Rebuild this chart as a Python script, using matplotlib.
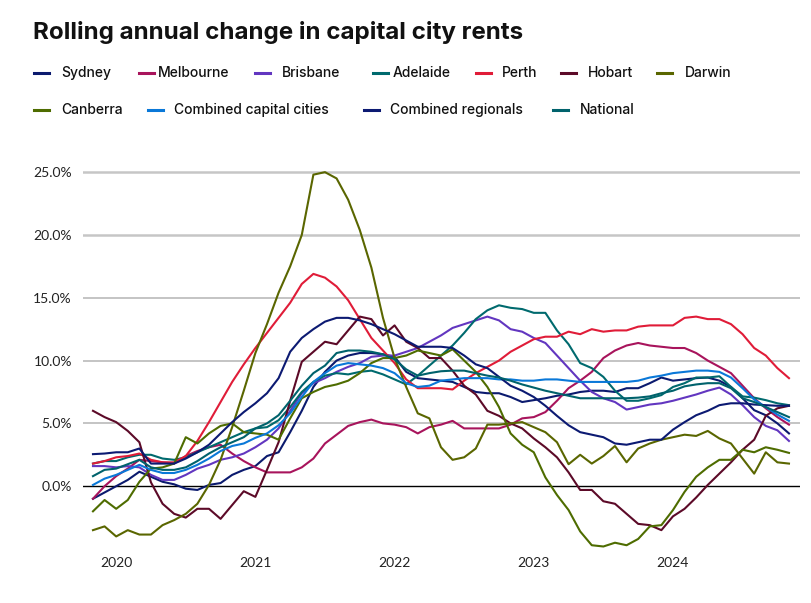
import matplotlib
matplotlib.use("Agg")
import matplotlib.pyplot as plt
from matplotlib.lines import Line2D
import numpy as np

# Monthly points, Nov 2019 .. Nov 2024 (61 points)
months = np.arange(61)
year_ticks = [2, 14, 26, 38, 50]
year_labels = ["2020", "2021", "2022", "2023", "2024"]

sydney = [-1.0, -0.5, 0.0, 0.5, 1.15, 0.75, 0.35, 0.15, -0.2, -0.3, 0.1, 0.25, 0.9, 1.3, 1.6,
          2.4, 2.7, 4.3, 6.0, 7.9, 9.1, 10.0, 10.4, 10.6, 10.6, 10.5, 10.3, 9.1, 8.6, 8.5,
          8.4, 8.3, 7.9, 7.5, 7.4, 7.4, 7.1, 6.7, 6.85, 7.0, 7.2, 7.3, 7.5, 7.6, 7.6,
          7.5, 7.8, 7.8, 8.2, 8.65, 8.4, 8.5, 8.6, 8.65, 8.4, 7.9, 7.0, 6.05, 5.65, 5.0, 4.2]
melbourne = [-1.0, 0.0, 0.8, 1.4, 2.1, 2.0, 1.9, 1.8, 2.4, 2.8, 3.1, 3.3, 2.6, 2.0, 1.5,
             1.1, 1.1, 1.1, 1.5, 2.2, 3.4, 4.1, 4.8, 5.1, 5.3, 5.0, 4.9, 4.7, 4.2, 4.7,
             4.9, 5.2, 4.6, 4.6, 4.6, 4.6, 4.9, 5.4, 5.5, 5.9, 6.8, 7.8, 8.4, 9.1, 10.2,
             10.8, 11.2, 11.4, 11.2, 11.1, 11.0, 11.0, 10.6, 10.0, 9.5, 9.0, 8.0, 7.0, 6.2, 5.5, 4.9]
brisbane = [1.6, 1.6, 1.5, 1.6, 1.5, 0.9, 0.5, 0.5, 0.9, 1.4, 1.7, 2.1, 2.3, 2.6, 3.1,
            3.7, 4.6, 6.0, 7.4, 8.2, 8.6, 9.1, 9.5, 9.8, 10.3, 10.4, 10.4, 10.7, 11.0, 11.5,
            12.0, 12.6, 12.9, 13.2, 13.5, 13.2, 12.5, 12.3, 11.8, 11.4, 10.4, 9.4, 8.4, 7.5, 7.0,
            6.7, 6.1, 6.3, 6.5, 6.6, 6.8, 7.05, 7.3, 7.6, 7.85, 7.3, 6.45, 5.5, 4.8, 4.45, 3.6]
adelaide = [1.8, 2.0, 2.0, 2.3, 2.5, 2.5, 2.2, 2.1, 2.3, 2.7, 3.1, 3.5, 3.9, 4.3, 4.6,
            4.7, 5.25, 6.3, 7.5, 8.3, 8.8, 9.0, 8.9, 9.1, 9.2, 8.9, 8.5, 8.1, 8.8, 9.6,
            10.4, 11.2, 12.2, 13.3, 14.0, 14.4, 14.2, 14.1, 13.8, 13.8, 12.4, 11.3, 9.8, 9.4, 8.7,
            7.6, 6.8, 6.8, 7.0, 7.25, 7.9, 8.2, 8.65, 8.65, 8.75, 7.9, 7.15, 7.05, 6.85, 6.6, 6.45]
perth = [1.8, 2.0, 2.3, 2.4, 2.6, 2.1, 1.9, 1.9, 2.4, 3.6, 5.1, 6.7, 8.3, 9.7, 11.0,
         12.2, 13.4, 14.6, 16.1, 16.9, 16.6, 15.9, 14.8, 13.3, 11.8, 10.8, 9.8, 8.5, 7.8, 7.8,
         7.8, 7.7, 8.4, 9.0, 9.5, 10.0, 10.7, 11.2, 11.7, 11.9, 11.9, 12.3, 12.1, 12.5, 12.3,
         12.4, 12.4, 12.7, 12.8, 12.8, 12.8, 13.4, 13.5, 13.3, 13.3, 12.9, 12.1, 11.0, 10.4, 9.4, 8.6]
hobart = [6.0, 5.5, 5.1, 4.4, 3.5, 0.3, -1.4, -2.2, -2.5, -1.8, -1.8, -2.6, -1.5, -0.4, -0.85,
          1.3, 3.5, 6.8, 9.9, 10.7, 11.5, 11.3, 12.4, 13.5, 13.3, 12.0, 12.8, 11.5, 11.0, 10.2,
          10.2, 9.2, 8.0, 7.3, 6.0, 5.6, 5.0, 4.6, 3.8, 3.1, 2.3, 1.1, -0.3, -0.3, -1.2,
          -1.4, -2.2, -3.0, -3.1, -3.5, -2.4, -1.8, -0.9, 0.1, 1.0, 1.9, 2.9, 3.7, 5.6, 6.2, 6.4]
darwin = [-3.5, -3.2, -4.0, -3.5, -3.85, -3.85, -3.1, -2.7, -2.2, -1.4, 0.1, 2.1, 4.7, 7.6, 10.6,
          12.9, 15.4, 17.5, 20.0, 24.8, 25.0, 24.5, 22.8, 20.4, 17.4, 13.4, 10.2, 7.9, 5.8, 5.4,
          3.1, 2.1, 2.3, 3.0, 4.9, 4.9, 5.0, 5.1, 4.7, 4.3, 3.5, 1.75, 2.5, 1.8, 2.4,
          3.2, 1.9, 3.0, 3.4, 3.7, 3.9, 4.1, 4.0, 4.4, 3.8, 3.4, 2.2, 1.0, 2.7, 1.9, 1.8]
canberra = [-2.0, -1.1, -1.8, -1.1, 0.35, 1.4, 1.5, 1.8, 3.9, 3.4, 4.2, 4.8, 5.0, 4.3, 4.2,
            4.1, 3.7, 5.4, 7.0, 7.5, 7.9, 8.1, 8.4, 9.0, 9.8, 10.2, 10.2, 10.4, 10.8, 10.6,
            10.4, 10.9, 10.0, 9.1, 7.9, 6.3, 4.2, 3.3, 2.7, 0.7, -0.7, -1.9, -3.6, -4.7, -4.8,
            -4.5, -4.7, -4.2, -3.2, -3.1, -1.9, -0.45, 0.75, 1.5, 2.1, 2.1, 2.9, 2.7, 3.1, 2.9, 2.65]
capitals = [0.1, 0.6, 0.9, 1.3, 1.7, 1.3, 1.05, 1.05, 1.3, 1.7, 2.2, 2.8, 3.2, 3.4, 3.85,
            4.2, 4.85, 5.8, 7.1, 8.3, 9.0, 9.6, 9.8, 9.7, 9.6, 9.4, 9.0, 8.2, 7.9, 8.0,
            8.4, 8.5, 8.6, 8.6, 8.6, 8.5, 8.5, 8.4, 8.4, 8.5, 8.5, 8.4, 8.3, 8.3, 8.3,
            8.3, 8.3, 8.4, 8.65, 8.8, 9.0, 9.1, 9.2, 9.2, 9.1, 8.65, 7.8, 6.9, 6.3, 5.7, 5.2]
regionals = [2.55, 2.6, 2.7, 2.7, 3.0, 1.8, 1.8, 1.8, 2.2, 2.7, 3.3, 4.2, 5.1, 5.9, 6.6,
             7.4, 8.6, 10.7, 11.8, 12.5, 13.1, 13.4, 13.4, 13.2, 12.9, 12.5, 12.1, 11.6, 11.1, 11.1,
             11.1, 11.0, 10.4, 9.7, 9.4, 8.7, 8.0, 7.6, 7.1, 6.4, 5.6, 4.85, 4.3, 4.1, 3.9,
             3.4, 3.3, 3.5, 3.7, 3.7, 4.5, 5.1, 5.65, 6.0, 6.45, 6.6, 6.6, 6.5, 6.45, 6.4, 6.4]
national = [0.8, 1.3, 1.4, 1.75, 2.1, 1.5, 1.3, 1.3, 1.5, 2.0, 2.6, 3.1, 3.5, 3.9, 4.6,
            5.0, 5.65, 6.8, 8.0, 9.0, 9.6, 10.6, 10.8, 10.8, 10.7, 10.5, 10.1, 9.3, 8.8, 9.0,
            9.15, 9.2, 9.2, 9.0, 8.8, 8.65, 8.4, 8.1, 7.85, 7.6, 7.4, 7.2, 7.0, 7.0, 7.0,
            7.0, 7.0, 7.05, 7.15, 7.4, 7.6, 7.95, 8.1, 8.2, 8.2, 7.8, 7.0, 6.7, 6.3, 5.9, 5.5]

names = ["Sydney", "Melbourne", "Brisbane", "Adelaide", "Perth", "Hobart", "Darwin",
         "Canberra", "Combined capital cities", "Combined regionals", "National"]
series = [sydney, melbourne, brisbane, adelaide, perth, hobart, darwin,
          canberra, capitals, regionals, national]
colors = ["#0b1a6e", "#a8145c", "#6236c0", "#006a6e", "#e01c38", "#5c0a28", "#5a6600",
          "#4e6c00", "#0a78d8", "#0c1a72", "#00626c"]

yticks = [0, 5, 10, 15, 20, 25]

W, H = 812, 603
fig = plt.figure(figsize=(W / 100, H / 100), dpi=100)
ax = fig.add_axes([83 / W, 1 - 549 / H, (800 - 83) / W, (549 - 168) / H])

for yv in yticks[1:]:
    thick = yv >= 20
    ax.axhline(yv, color="#c6c6c6" if thick else "#b4b4b4", lw=1.8 if thick else 1.1, zorder=1)
ax.axhline(0, color="black", lw=1.0, zorder=1)

for s, c in zip(series, colors):
    ax.plot(months, s, color=c, lw=1.5, zorder=3, solid_joinstyle="round")

ax.set_xlim(-0.86, 60.95)
ax.set_ylim(-5.0, 25.33)
ax.set_yticks(yticks)
ax.set_yticklabels([f"{v:.1f}%" for v in yticks])
ax.set_xticks(year_ticks)
ax.set_xticklabels(year_labels)
ax.tick_params(axis="both", length=0, labelsize=10, labelcolor="#222222")
ax.tick_params(axis="y", pad=8)
ax.tick_params(axis="x", pad=6)
for lab in ax.get_xticklabels() + ax.get_yticklabels():
    lab.set_family("Lato")
for sp in ax.spines.values():
    sp.set_visible(False)

fig.text(33 / W, 1 - 32 / H, "Rolling annual change in capital city rents", fontsize=17.4,
         fontweight="bold", family="Inter", va="center", ha="left", color="#111111")

rows = [
    (73, [(34, 61), (139, 158), (255, 282), (373, 393), (476, 502), (561, 588), (657, 685)]),
    (110, [(34, 61), (148, 174), (364, 390), (553, 580)]),
]
k = 0
for ypix, items in rows:
    for x0, xt in items:
        yf = 1 - ypix / H
        fig.add_artist(Line2D([x0 / W, (x0 + 15) / W], [yf, yf], color=colors[k], lw=2.2,
                              transform=fig.transFigure))
        fig.text(xt / W, yf, names[k], fontsize=10, family="Inter", fontweight="medium",
                 va="center", ha="left", color="#111111")
        k += 1

fig.savefig("out.png", dpi=100)
